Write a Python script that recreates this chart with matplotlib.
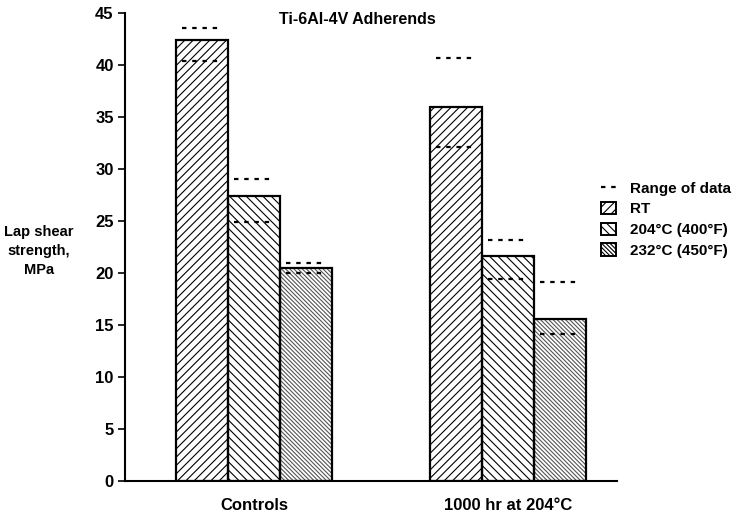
import matplotlib
matplotlib.use('Agg')
import numpy as np
import matplotlib.pyplot as plt
from matplotlib.patches import Patch
from matplotlib.lines import Line2D

plt.rcParams['font.family'] = ['Liberation Sans', 'DejaVu Sans']
plt.rcParams['font.weight'] = 'bold'
plt.rcParams['hatch.linewidth'] = 0.8

# data
groups = ['Controls', '1000 hr at 204\u00b0C']
conditions = ['RT', '204\u00b0C (400\u00b0F)', '232\u00b0C (450\u00b0F)']
rt_mean = [42.4, 36.0]
c204_mean = [27.4, 21.6]
c232_mean = [20.5, 15.6]
rt_hi = [43.6, 40.7]
c204_hi = [29.0, 23.2]
c232_hi = [21.0, 19.1]
rt_lo = [40.4, 32.1]
c204_lo = [24.9, 19.4]
c232_lo = [20.0, 14.1]
yticks = [0, 5, 10, 15, 20, 25, 30, 35, 40, 45]

means = [rt_mean, c204_mean, c232_mean]
his = [rt_hi, c204_hi, c232_hi]
los = [rt_lo, c204_lo, c232_lo]
hatches = ['////', '\\\\\\\\', '\\\\\\\\\\\\\\\\']
hcolors = ['black', 'black', '#555555']

fig = plt.figure(figsize=(7.43, 5.18), dpi=100)
ax = fig.add_axes([0.168, 0.071, 0.662, 0.904])

pos = np.arange(len(groups))
width = 0.205

for i in range(len(conditions)):
    x = pos + (i - 1) * width
    # hatch layer
    ax.bar(x, means[i], width, color='white', edgecolor=hcolors[i],
           hatch=hatches[i], linewidth=0, zorder=2)
    # outline
    ax.bar(x, means[i], width, color='none', edgecolor='black',
           linewidth=1.6, zorder=3)
    # range of data
    for j in range(len(groups)):
        for v in (his[i][j], los[i][j]):
            ax.hlines(v, x[j] - width * 0.38, x[j] + width * 0.38,
                      colors='black', linestyles=(0, (2, 2.6)),
                      linewidth=1.6, zorder=4)

ax.set_xlim(-0.51, 1.43)
ax.set_ylim(0, 45)
ax.set_yticks(yticks)
ax.set_xticks(pos)
ax.set_xticklabels(groups, fontsize=12, fontweight='bold')
ax.tick_params(axis='x', length=0, pad=12)
ax.tick_params(axis='y', direction='out', length=5, width=1.2,
               labelsize=12, pad=3)
for lab in ax.get_yticklabels():
    lab.set_fontweight('bold')
ax.spines['top'].set_visible(False)
ax.spines['right'].set_visible(False)
ax.spines['left'].set_linewidth(1.5)
ax.spines['bottom'].set_linewidth(1.5)

fig.text(0.481, 0.963, 'Ti-6Al-4V Adherends', ha='center', va='center',
         fontsize=11.5, fontweight='bold')
fig.text(0.052, 0.515, 'Lap shear\nstrength,\nMPa', ha='center', va='center',
         fontsize=10.5, fontweight='bold', linespacing=1.45)

handles = [Line2D([0], [0], color='black', linestyle=(0, (2, 2.6)),
                  linewidth=1.6)]
for i in range(len(conditions)):
    handles.append(Patch(facecolor='white', edgecolor='black',
                         hatch=hatches[i], linewidth=1.4))
fig.legend(handles, ['Range of data'] + conditions, loc='upper left',
           bbox_to_anchor=(0.79, 0.677), frameon=False,
           handlelength=1.0, handleheight=0.9, handletextpad=0.9,
           labelspacing=0.4, prop={'weight': 'bold', 'size': 11})

fig.savefig('out.png', dpi=100)
